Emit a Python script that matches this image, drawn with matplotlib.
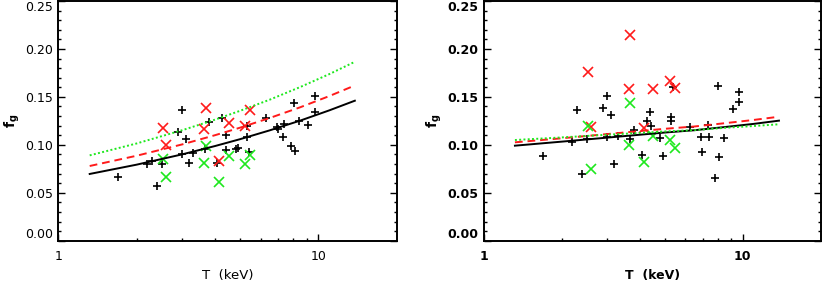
import matplotlib
matplotlib.use("Agg")
import matplotlib.pyplot as plt
from matplotlib.ticker import FixedLocator, MultipleLocator, NullFormatter

plt.rcParams["font.family"] = ["DejaVu Sans"]
plt.rcParams["mathtext.fontset"] = "dejavusans"

# Temperatures (keV) of the black "+" objects, shared by both panels.
t_black = [1.69, 2.39, 2.19, 2.30, 2.50, 2.89, 2.99, 2.99, 3.09, 3.19, 3.30,
           3.66, 3.80, 4.08, 4.27, 4.40, 4.41, 4.80, 4.91, 5.29, 5.29, 5.40,
           6.26, 6.92, 6.98, 7.38, 7.33, 7.85, 8.06, 8.13, 8.45, 9.15, 9.71, 9.71]
fg_black_left = [0.0668, 0.0571, 0.0800, 0.0828, 0.0800, 0.1137, 0.1363, 0.0901,
                 0.1061, 0.0807, 0.0912, 0.0960, 0.1241, 0.0807, 0.1283, 0.1102,
                 0.0946, 0.0956, 0.0970, 0.1196, 0.1085, 0.0928, 0.1277, 0.1189,
                 0.1165, 0.1214, 0.1078, 0.0988, 0.1433, 0.0936, 0.1248, 0.1207,
                 0.1512, 0.1345]
fg_black_right = [0.0887, 0.0693, 0.1026, 0.1363, 0.1058, 0.1381, 0.1509, 0.1085,
                  0.1311, 0.0800, 0.1095, 0.1061, 0.1155, 0.0894, 0.1248, 0.1339,
                  0.1196, 0.1068, 0.0883, 0.1293, 0.1248, 0.1606, 0.1189, 0.1085,
                  0.0928, 0.1085, 0.1207, 0.0657, 0.1613, 0.0876, 0.1068, 0.1370,
                  0.1554, 0.1450]

# Objects plotted as red and green crosses (same temperatures).
t_cross = [2.52, 2.60, 3.68, 3.63, 4.51, 4.16, 5.47, 5.23]
fg_red_left = [0.1179, 0.0998, 0.1381, 0.1165, 0.1224, 0.0831, 0.1363, 0.1196]
fg_red_right = [0.1756, 0.1189, 0.2145, 0.1579, 0.1579, 0.1172, 0.1596, 0.1666]
fg_green_left = [0.0852, 0.0668, 0.0991, 0.0807, 0.0887, 0.0615, 0.0894, 0.0800]
fg_green_right = [0.1196, 0.0745, 0.1439, 0.0998, 0.1092, 0.0824, 0.0970, 0.1050]

# Fit curves.
t_fit = [1.32, 2.0, 3.0, 4.0, 5.0, 6.5, 8.5, 11.0, 13.8]
fit_black_left = [0.0696, 0.0793, 0.0901, 0.0987, 0.1059, 0.1151, 0.1252, 0.1359, 0.1460]
fit_red_left = [0.0779, 0.0886, 0.1005, 0.1100, 0.1179, 0.1280, 0.1391, 0.1508, 0.1619]
fit_green_left = [0.0890, 0.1014, 0.1153, 0.1262, 0.1355, 0.1471, 0.1602, 0.1737, 0.1866]
fit_black_right = [0.0991, 0.1033, 0.1075, 0.1105, 0.1128, 0.1152, 0.1185, 0.1218, 0.1252]
fit_red_right = [0.1026, 0.1068, 0.1112, 0.1143, 0.1167, 0.1191, 0.1225, 0.1259, 0.1293]
fit_green_right = [0.1050, 0.1077, 0.1105, 0.1124, 0.1139, 0.1153, 0.1177, 0.1196, 0.1214]

y_ticks = [0.00, 0.05, 0.10, 0.15, 0.20, 0.25]

RED = "#ff1a1a"
GREEN = "#1ee81e"

fig = plt.figure(figsize=(8.24, 2.83), dpi=100)
ax_l = fig.add_axes([0.0708, 0.1495, 0.4107, 0.847])
ax_r = fig.add_axes([0.5870, 0.1495, 0.4090, 0.847])

panels = [
    (ax_l, "normal", 9.5, fg_black_left, fg_red_left, fg_green_left,
     fit_black_left, fit_red_left, fit_green_left),
    (ax_r, "bold", 9, fg_black_right, fg_red_right, fg_green_right,
     fit_black_right, fit_red_right, fit_green_right),
]

for ax, weight, fs, fb, fr, fgr, cb, cr, cg in panels:
    ax.plot(t_black, fb, "+", color="black", ms=6, mew=1.2, ls="none")
    ax.plot(t_cross, fr, "x", color=RED, ms=7.5, mew=1.2, ls="none")
    ax.plot(t_cross, fgr, "x", color=GREEN, ms=7.5, mew=1.2, ls="none")
    ax.plot(t_fit, cb, color="black", lw=1.4)
    ax.plot(t_fit, cr, color=RED, lw=1.4, ls=(0, (4, 2.5)))
    ax.plot(t_fit, cg, color=GREEN, lw=1.4, ls=(0, (1, 1.2)))

    ax.set_xscale("log")
    ax.set_xlim(1, 20)
    ax.set_ylim(0, 0.25)
    ax.xaxis.set_major_locator(FixedLocator([1, 10]))
    ax.xaxis.set_minor_locator(FixedLocator([2, 3, 4, 5, 6, 7, 8, 9]))
    ax.xaxis.set_minor_formatter(NullFormatter())
    ax.set_xticklabels(["1", "10"])
    ax.set_yticks(y_ticks)
    ax.set_yticklabels([f"{v:.2f}" for v in y_ticks])
    ax.yaxis.set_minor_locator(MultipleLocator(0.01))

    ax.tick_params(which="both", direction="in", right=True, top=False, width=1.0)
    ax.tick_params(which="major", length=5, labelsize=9, pad=4)
    ax.tick_params(which="minor", length=2.5)
    ax.tick_params(axis="x", which="major", pad=7)
    for lab in ax.get_xticklabels() + ax.get_yticklabels():
        lab.set_fontweight(weight)
    ylabs = ax.get_yticklabels()
    ylabs[0].set_verticalalignment("bottom")
    ylabs[-1].set_verticalalignment("top")
    for sp in ax.spines.values():
        sp.set_linewidth(1.4)

    ax.set_xlabel("T  (keV)", fontsize=fs, fontweight=weight, labelpad=4)
    ax.set_ylabel(r"$\mathbf{f_g}$", fontsize=10, labelpad=2)

fig.savefig("out.png", dpi=100)
